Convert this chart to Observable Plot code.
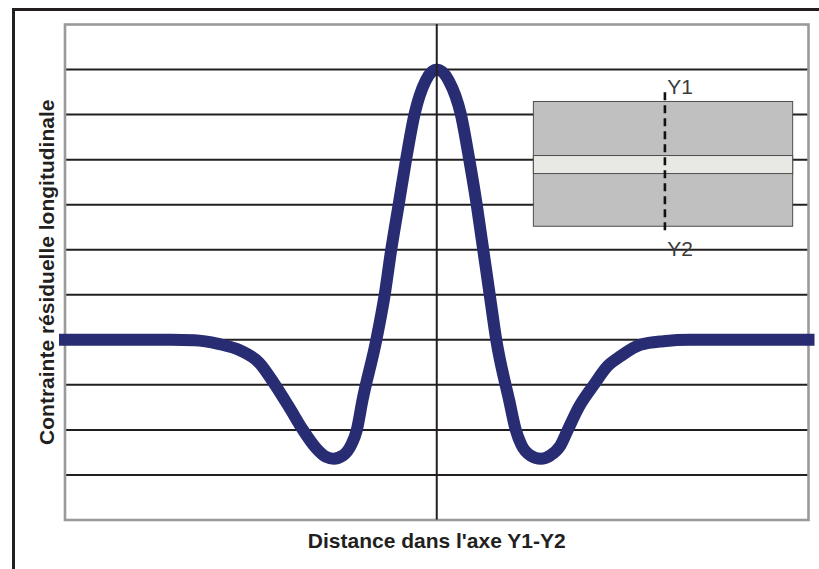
<!DOCTYPE html>
<html lang="fr">
<head>
<meta charset="utf-8">
<script src="https://cdn.jsdelivr.net/npm/d3@7"></script>
<script src="https://cdn.jsdelivr.net/npm/@observablehq/plot@0.6"></script>
<style>
  html, body { margin: 0; padding: 0; background: #fff; }
  #wrap { position: relative; width: 819px; height: 569px; overflow: hidden; }
  #chart svg { display: block; }
  /* open frame around the figure: top and left edges only */
  #border {
    position: absolute; left: 12px; top: 8px; width: 900px; height: 700px;
    border-top: 3px solid #231f20; border-left: 3px solid #231f20;
    pointer-events: none;
  }
  [aria-label="axis-title"], [aria-label="axis-title"] text { letter-spacing: 0.6px; }
</style>
</head>
<body>
<div id="wrap"><div id="chart"></div><div id="border"></div></div>
<script>
// Residual longitudinal stress along the Y1–Y2 line (arbitrary units)
const distance = [-40, -34.0, -28.6, -26.1, -23.5, -21.1, -19.1, -17.4, -15.9, -14.4,
  -13.0, -11.9, -11.1, -10.1, -9.2, -8.6, -8.0, -6.5, -5.6, -4.9,
  -4.1, -3.3, -2.4, -1.2, 0, 1.3, 2.6, 3.5, 4.3, 5.0,
  5.7, 6.4, 7.8, 8.5, 9.1, 10.1, 11.2, 12.2, 13.3, 14.1,
  15.3, 16.9, 18.4, 19.8, 21.9, 24.4, 27.3, 33.8, 40];
const stress = [0, 0, 0, -0.01, -0.09, -0.24, -0.51, -1.0, -1.49, -2.0,
  -2.4, -2.6, -2.64, -2.57, -2.33, -2.0, -1.35, 0, 1.0, 2.0,
  3.0, 4.0, 5.0, 5.75, 6.0, 5.75, 5.0, 4.0, 3.0, 2.0,
  1.0, 0, -1.35, -2.0, -2.33, -2.57, -2.64, -2.57, -2.35, -2.0,
  -1.49, -1.0, -0.58, -0.36, -0.11, -0.03, 0, 0, 0];
const gridLevels = [-3, -2, -1, 0, 1, 2, 3, 4, 5, 6];
const xTitle = "Distance dans l'axe Y1-Y2";
const yTitle = "Contrainte résiduelle longitudinale";
const cutLabels = ["Y1", "Y2"];

const profile = distance.map((d, i) => ({distance: d, stress: stress[i]}));

// Sketch of the welded plate with the Y1–Y2 cut line, placed in chart units
const plate = [{x1: 10.45, x2: 38.35, y1: 2.51, y2: 5.28}];
const weld = [{x1: 10.45, x2: 38.35, y1: 3.68, y2: 4.08}];
const cut = {x: 24.55, y1: 2.42, y2: 5.57};
const cutText = [
  {label: cutLabels[0], x: 24.8, y: 5.46},
  {label: cutLabels[1], x: 24.8, y: 1.85}
];

const font = "'Liberation Sans', Arial, Helvetica, sans-serif";
const ink = "#231f20";

const svg = Plot.plot({
  width: 819,
  height: 569,
  marginLeft: 64.5,
  marginRight: 11,
  marginTop: 24,
  marginBottom: 49.5,
  style: {background: "transparent", fontFamily: font},
  x: {domain: [-40, 40], axis: null},
  y: {domain: [-4, 7], axis: null},
  marks: [
    Plot.ruleY(gridLevels, {stroke: ink, strokeWidth: 2}),
    Plot.frame({stroke: "#9a9a9a", strokeWidth: 2.6}),
    Plot.rect(plate, {x1: "x1", x2: "x2", y1: "y1", y2: "y2", fill: "#c0c0c0", stroke: "#4d4d4d", strokeWidth: 1}),
    Plot.rect(weld, {x1: "x1", x2: "x2", y1: "y1", y2: "y2", fill: "#e8e8e5", stroke: "#4d4d4d", strokeWidth: 1, ariaLabel: "weld"}),
    Plot.ruleX([cut.x], {y1: cut.y1, y2: cut.y2, stroke: "#111", strokeWidth: 2.6, strokeDasharray: "8,5"}),
    Plot.text(cutText, {x: "x", y: "y", text: "label", textAnchor: "start", lineAnchor: "bottom",
      fontSize: 21, fontFamily: font, fill: "#3a3a3a"}),
    Plot.line(profile, {x: "distance", y: "stress", stroke: "#282c73", strokeWidth: 12,
      curve: "monotone-x", strokeLinecap: "square", strokeLinejoin: "round"}),
    Plot.ruleX([0], {stroke: ink, strokeWidth: 2}),
    Plot.text([xTitle], {frameAnchor: "bottom", dy: 28, textAnchor: "middle", lineAnchor: "bottom", fontSize: 21,
      fontWeight: "bold", fontFamily: font, fill: ink, ariaLabel: "axis-title"}),
    Plot.text([yTitle], {frameAnchor: "left", dx: -11, rotate: -90, textAnchor: "middle", lineAnchor: "bottom", fontSize: 21,
      fontWeight: "bold", fontFamily: font, fill: ink, ariaLabel: "axis-title"})
  ]
});

// speckled texture for the weld bead
const defs = d3.select(svg).insert("defs", ":first-child");
const f = defs.append("filter").attr("id", "grain").attr("x", 0).attr("y", 0).attr("width", 1).attr("height", 1);
f.append("feTurbulence").attr("type", "fractalNoise").attr("baseFrequency", 1.1).attr("numOctaves", 2).attr("seed", 3).attr("result", "noise");
f.append("feColorMatrix").attr("in", "noise").attr("type", "matrix")
  .attr("values", "0 0 0 0 0.70  0 0 0 0 0.70  0 0 0 0 0.68  0 0 0 3.2 -1.35").attr("result", "dots");
f.append("feComposite").attr("in", "dots").attr("in2", "SourceGraphic").attr("operator", "atop");
d3.select(svg).selectAll('[aria-label="weld"]').attr("filter", "url(#grain)");

document.getElementById("chart").appendChild(svg);
</script>
</body>
</html>
